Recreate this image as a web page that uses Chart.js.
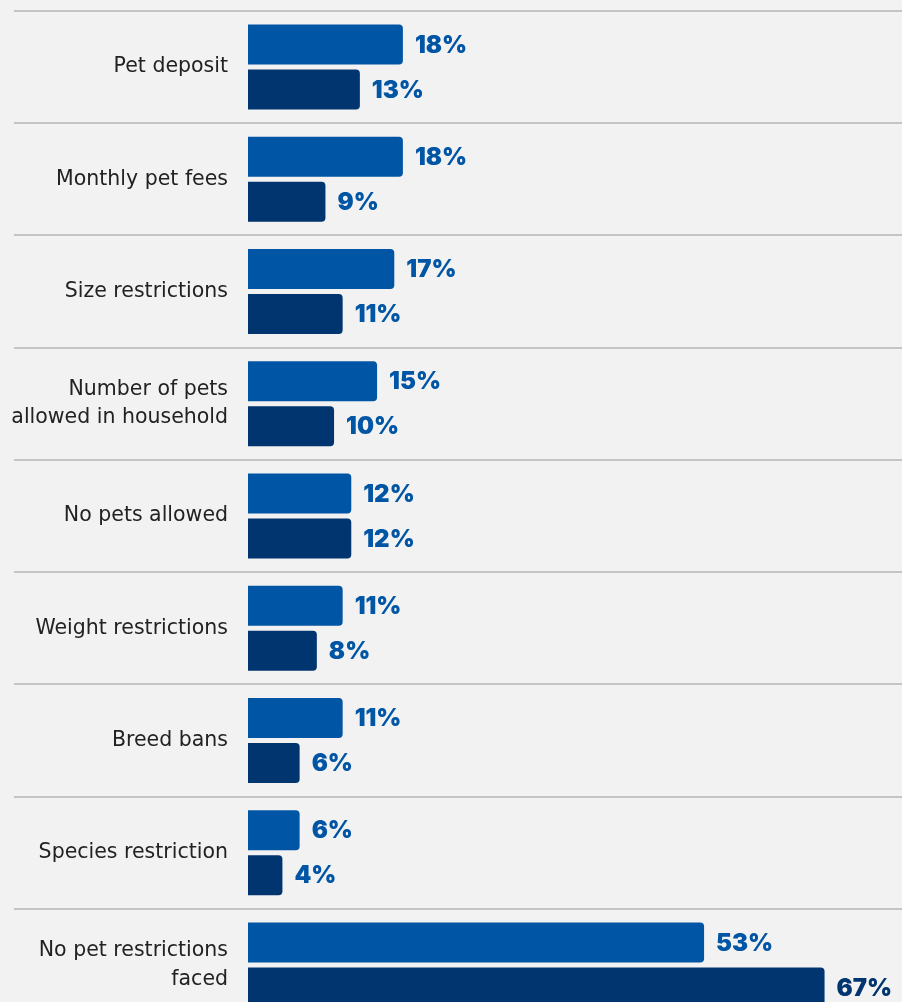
<!DOCTYPE html>
<html>
<head>
<meta charset="utf-8">
<script src="https://cdn.jsdelivr.net/npm/chart.js@4"></script>
<style>
html,body{margin:0;padding:0;background:#f2f2f2;overflow:hidden;}
#wrap{width:902px;height:1030px;}
</style>
</head>
<body>
<div id="wrap"><canvas id="c"></canvas></div>
<script>
const categories=[
  'Pet deposit',
  'Monthly pet fees',
  'Size restrictions',
  ['Number of pets','allowed in household'],
  'No pets allowed',
  'Weight restrictions',
  'Breed bans',
  'Species restriction',
  ['No pet restrictions','faced']
];
const seriesA=[18,18,17,15,12,11,11,6,53];
const seriesB=[13,9,11,10,12,8,6,4,67];
const xMax=76;

const blue='#0055a4', navy='#00356f';

// value labels at bar ends
const valueLabels={
  id:'valueLabels',
  afterDatasetsDraw(chart){
    const c=chart.ctx;
    c.save();
    c.font='900 24px Inter, "DejaVu Sans", sans-serif';
    c.textBaseline='middle';
    c.textAlign='left';
    chart.data.datasets.forEach((ds,di)=>{
      chart.getDatasetMeta(di).data.forEach((bar,i)=>{
        const v=ds.data[i];
        // the longest bar's label sits in navy in the original
        c.fillStyle=(v===Math.max(...seriesA,...seriesB))?navy:blue;
        c.fillText(v+'%',bar.x+12,bar.y+1);
      });
    });
    c.restore();
  }
};

new Chart(document.getElementById('c'),{
  type:'bar',
  data:{labels:categories,
    datasets:[
      {label:'Series A',data:seriesA,backgroundColor:blue,borderRadius:4,borderSkipped:'start',
       categoryPercentage:.802,barPercentage:.889},
      {label:'Series B',data:seriesB,backgroundColor:navy,borderRadius:4,borderSkipped:'start',
       categoryPercentage:.802,barPercentage:.889}
    ]},
  options:{indexAxis:'y',responsive:true,maintainAspectRatio:false,animation:false,
    layout:{padding:{top:11,bottom:9,left:0,right:0}},
    plugins:{legend:{display:false},tooltip:{enabled:false}},
    scales:{
      x:{min:0,max:xMax,display:false},
      y:{
        grid:{offset:true,color:'#c4c4c4',lineWidth:2,tickLength:234,drawOnChartArea:true},
        border:{display:false},
        ticks:{color:'#222',font:{family:'"DejaVu Sans", sans-serif',size:20.5,lineHeight:1.4},padding:-214},
        afterFit(s){s.width=248;}
      }
    }},
  plugins:[valueLabels]
});
</script>
</body>
</html>
